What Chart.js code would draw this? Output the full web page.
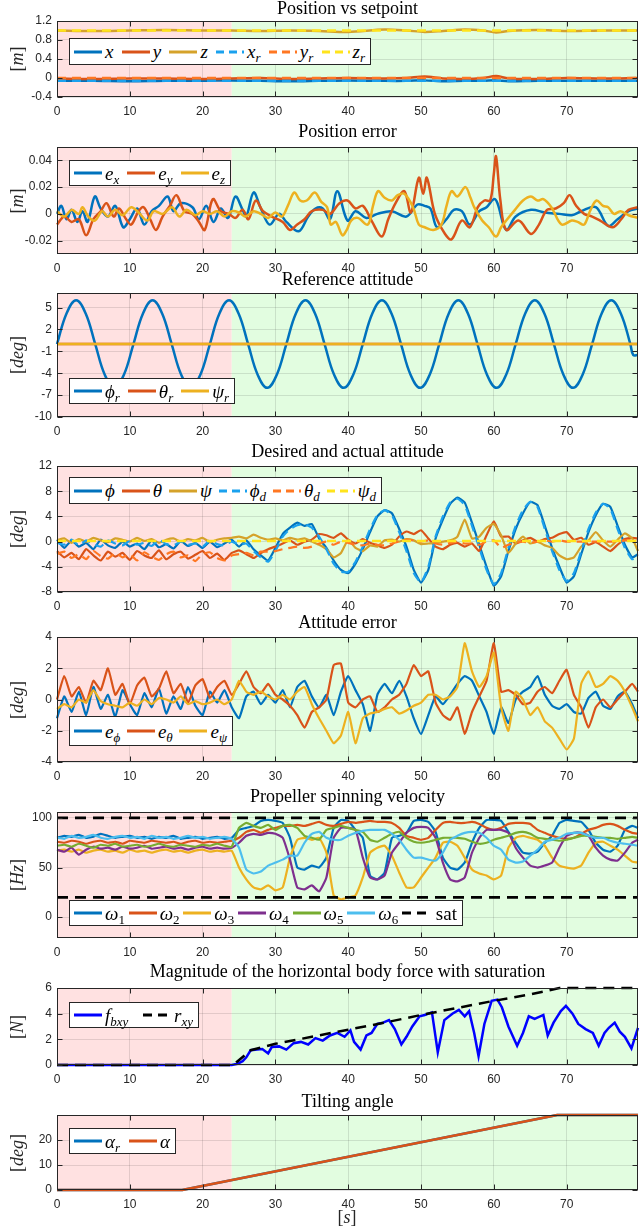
<!DOCTYPE html>
<html>
<head>
<meta charset="utf-8">
<script src="https://cdn.jsdelivr.net/npm/chart.js@4.4.1/dist/chart.umd.min.js"></script>
<style>
html,body{margin:0;padding:0;background:#fff}
body{position:relative;width:640px;height:1227px;overflow:hidden}
.pn{position:absolute;left:0}
.lg{position:absolute;left:69px;box-sizing:border-box;background:#fff;border:1px solid #262626;display:flex;align-items:center;justify-content:space-between;padding:0 5px 0 4px;z-index:5;font:italic 19px 'Liberation Serif',serif;color:#000}
.it{display:flex;align-items:center;white-space:nowrap}
.it svg{display:block}
.it span{margin-left:3px;line-height:19px}
.lg sub{font-size:13px;line-height:0;vertical-align:-4px}
.lg .u{font-style:normal}
.yl{position:absolute;transform:translate(-50%,-50%) rotate(-90deg);font:18px 'Liberation Serif',serif;white-space:nowrap;color:#262626;z-index:5}
.xl{position:absolute;transform:translate(-50%,-50%);font:18px 'Liberation Serif',serif;color:#262626}
</style>
</head>
<body>
<script>
// shared time axis (1 s steps) and ticks
const sec = [0,1,2,3,4,5,6,7,8,9,10,11,12,13,14,15,16,17,18,19,20,21,22,23,24,25,26,27,28,29,30,31,32,33,34,35,36,37,38,39,40,41,42,43,44,45,46,47,48,49,50,51,52,53,54,55,56,57,58,59,60,61,62,63,64,65,66,67,68,69,70,71,72,73,74,75,76,77,78,79,79.8];
const tRef = [0, 79.8];
const xTicks = [0,10,20,30,40,50,60,70];
const phaseFrom = [0, 24];
const phaseTo = [24, 79.8];

// Position vs setpoint
const tPos = [0,5,10,15,20,24,28,32,36,40,45,48,50.5,53,56,58.5,60.3,62,66,70,75,79.8];
const xPos = [-0.06,-0.06,-0.07,-0.06,-0.06,-0.05,-0.06,-0.07,-0.06,-0.05,-0.06,-0.06,-0.05,-0.07,-0.06,-0.06,-0.05,-0.07,-0.06,-0.06,-0.06,-0.06];
const yPos = [-0.01,-0.02,-0.01,-0.01,-0.02,-0.01,0,-0.02,-0.01,0,-0.01,0,0.03,-0.01,-0.02,0,0.04,-0.01,-0.02,0,-0.01,0];
const zPos = [1,0.99,1,1.01,1,1,0.99,1,0.99,0.97,1.02,1,0.97,0.99,1.02,1,0.96,0.99,1.01,0.99,1,1];
const xRef = [-0.06,-0.06];
const yRef = [0,0];
const zRef = [1,1];

// Position error
const exT = [0,0.6,1.3,2,2.8,3.5,4.2,5.2,6,7,8,9.1,10,11,12,13,14,15.2,16,17,18.6,19.5,20.5,21.5,22.5,23.5,24.5,25.5,26,27,28,29.2,30.5,31.5,33.2,34.5,35.5,36.5,37.5,38.5,39.9,41,42.5,44,46,48,49.5,50.5,51.3,52.2,53.5,54.5,55.6,56.7,58,59,60,60.5,61.7,63,65.1,67,69,70.7,72,74,75.7,77,78.5,79.8];
const exV = [0,0.006,-0.004,0.003,-0.006,0.002,-0.006,0.013,0.004,-0.002,0.006,-0.01,-0.004,0.004,-0.008,0.002,0.006,0.013,0.002,0.008,0.005,-0.004,0.006,-0.006,0.004,-0.003,0.013,0.003,-0.002,0.016,0.004,-0.008,0,-0.006,-0.013,-0.002,0.004,0.004,-0.004,0.017,-0.005,0.002,-0.003,0,0.002,-0.002,0.007,0.006,0.004,-0.01,-0.004,0.003,0.002,-0.008,0.002,0.005,0.011,0.008,-0.012,-0.002,0.003,0.001,0,-0.001,0.002,0.005,-0.009,-0.004,0.002,0.004];
const eyT = [0,1,2,3,4,5,6,6.8,7.8,8.5,9.5,10.2,11.2,11.9,12.8,13.6,14.5,15.5,16.4,17.5,18.6,19.5,20.3,21.4,22.5,23.6,24.5,25.5,26.3,27.3,28.3,29.5,31,32,33,34,35,36.5,37.5,38.8,39.9,41,42,43.2,44.6,45.5,46.5,47.7,48.6,49.7,50.3,50.8,51.9,53.3,54.2,55.6,56.7,57.8,58.7,59.5,60,60.3,60.9,61.7,63.4,65.1,66.2,67.3,68.5,69.6,70.4,71.3,72.4,73.5,74.6,76.3,77.5,78.5,79.8];
const eyV = [-0.008,-0.002,-0.006,-0.004,-0.016,-0.004,0.002,0.008,-0.002,0.004,-0.004,-0.008,0.002,0.005,-0.004,-0.012,-0.002,0.006,0.014,0.002,0,-0.006,-0.012,0.011,0.002,0,-0.003,0.003,-0.004,0.01,0.002,-0.002,-0.006,-0.012,-0.008,-0.004,0.002,0.003,0,0.008,0.01,0.004,0.006,-0.005,-0.017,-0.004,0.008,0.017,0.001,0.027,0.015,0.027,0,-0.015,-0.019,-0.005,-0.01,0.005,0.01,0.01,0.03,0.043,0.01,-0.012,-0.005,-0.015,-0.008,0.003,0.004,0.008,0.014,0.006,0,-0.002,-0.005,-0.01,-0.004,0.003,0.005];
const ezT = [0,1,2,3,3.5,4.3,5.2,6.2,7,8,9,10.2,11.2,12.4,13.3,14.5,15.8,16.8,17.8,19,20,21,22,23,24,25,25.9,27,28,29,30,30.9,31.7,32.6,33.4,34.3,35.4,36.3,37.1,37.6,38.3,39.2,39.8,40.4,41.3,42.7,43.4,44.1,45,46,46.8,47.7,48.9,49.7,50.5,51.7,52.8,53.5,54.2,55,56.1,56.8,57.3,58.4,59.3,60.3,61,61.7,62.9,64,65.1,66,66.8,67.9,69.3,70.7,71.5,72.4,73.2,74.1,75,75.7,76.5,77.4,78.5,79.8];
const ezV = [0.002,-0.002,0.003,0,0.005,-0.002,-0.005,0.002,-0.002,0.003,-0.001,0.005,0.001,-0.005,0.002,0,0.005,-0.002,0.003,-0.001,0.002,0,0.002,-0.002,0.002,0.001,-0.002,0.002,0,-0.003,0.001,-0.002,0.006,0.016,0.01,0.01,0.016,0.009,0.005,-0.008,-0.006,-0.016,-0.012,-0.005,-0.003,-0.008,0.006,0.017,0.012,0.01,0.014,0.015,0.005,-0.008,-0.01,-0.012,-0.008,0.006,0.017,0.013,0.02,0.012,0.005,-0.005,-0.01,-0.017,-0.01,-0.005,0.003,0.01,0.013,0.01,0.011,0.005,-0.008,-0.005,-0.006,-0.008,0.002,0.01,0.006,0.005,0,0.002,-0.001,-0.003];

// Reference attitude
const phirT = [0,1.31,2.63,3.94,5.25,6.56,7.88,9.19,10.5,11.81,13.13,14.44,15.75,17.06,18.38,19.69,21,22.31,23.63,24.94,26.25,27.56,28.88,30.19,31.5,32.81,34.13,35.44,36.75,38.06,39.38,40.69,42,43.31,44.63,45.94,47.25,48.56,49.88,51.19,52.5,53.81,55.13,56.44,57.75,59.06,60.38,61.69,63,64.31,65.63,66.94,68.25,69.56,70.88,72.19,73.5,74.81,76.13,77.44,78.75,79.15,79.8];
const phirV = [0,4.2,6,4.2,0,-4.2,-6,-4.2, 0,4.2,6,4.2,0,-4.2,-6,-4.2, 0,4.2,6,4.2,0,-4.2,-6,-4.2, 0,4.2,6,4.2,0,-4.2,-6,-4.2, 0,4.2,6,4.2,0,-4.2,-6,-4.2, 0,4.2,6,4.2,0,-4.2,-6,-4.2, 0,4.2,6,4.2,0,-4.2,-6,-4.2, 0,4.2,6,4.2,0,-1.5,-1.5];
const thetaR = [0,0];
const psiR = [0,0];

// Desired and actual attitude (1 s samples)
const phiV = [0.3,-1.0,0.2,-0.8,-0.2,-1.2,0.3,-0.6,-1.0,0.0,-0.8,-0.3,-1.2,0.2,-0.9,-0.4,-1.1,0.1,-0.7,-0.2,-1.0,0.0,-0.9,-0.3,0.3,
  -0.8,0.2,-1.2,-2.2,-3.0,-1.0,1.2,2.2,3.0,2.5,2.8,0.5,-1.0,-3.0,-4.5,-5.0,-3.5,-1.2,1.5,4.0,5.0,4.5,2.0,-0.8,-4.5,-6.5,-4.5,0.5,3.5,6.0,
  7.0,6.2,3.0,-0.5,-4.0,-7.0,-5.5,-1.5,2.0,4.5,6.3,5.8,2.5,-1.0,-4.0,-6.5,-5.5,-2.0,1.5,4.2,6.0,5.5,2.5,-0.5,-2.5,-2.0];
const thetaV = [-1.5,-2.5,-1.8,-2.8,-1.2,-2.2,-3.0,-1.6,-2.4,-1.8,-2.9,-1.5,-2.2,-2.6,-1.4,-2.8,-2.0,-1.6,-2.7,-2.1,-1.5,-2.6,-1.9,-2.9,-1.8,
  -1.4,-2.0,-2.6,-1.8,-1.2,-0.8,-0.3,0.2,-0.5,0.0,0.3,1.2,1.0,0.6,1.3,0.3,-0.3,0.4,-0.2,-0.6,-1.0,-0.5,0.8,1.6,1.2,1.8,0.5,-0.8,-1.2,-0.5,
  -0.2,-0.8,-0.3,-1.5,1.0,3.2,0.8,0.8,-0.3,0.2,0.6,0.0,0.4,0.6,1.2,1.5,0.3,0.6,-0.5,-0.1,-0.8,-1.5,-0.5,0.4,0.6,0.5];
const psiV = [0.2,0.5,-0.2,0.4,0.0,0.6,0.2,-0.1,0.5,0.3,0.0,0.6,0.1,0.4,-0.2,0.3,0.5,0.0,0.4,0.2,0.6,-0.1,0.3,0.5,0.6,
  0.8,0.5,1.1,0.6,0.3,0.5,0.2,0.6,0.3,0.5,0.0,-0.5,-1.2,-2.5,-1.8,0.3,-1.0,-1.5,-0.6,-0.8,0.2,0.3,0.0,0.4,0.2,-0.4,-0.3,-0.2,0.0,0.2,
  0.8,3.5,0.5,0.8,2.2,2.8,1.0,-1.8,-0.3,0.8,-0.3,0.0,-0.6,-1.0,-2.2,-2.8,-2.5,-0.8,0.2,1.5,0.2,-0.8,0.3,1.3,0.5,-1.5];
const phidV = [-0.2,-0.5,0.3,-0.6,0.2,-0.4,-0.8,0.2,-0.3,-0.6,0.1,-0.5,-0.2,-0.7,0.3,-0.4,-0.6,0.0,-0.5,-0.3,-0.8,0.2,-0.4,-0.6,0.0,
  -0.5,-0.3,-1.5,-2.5,-3.2,-1.5,0.8,2.0,2.6,2.8,2.2,0.8,-1.2,-3.5,-4.8,-4.8,-3.2,-0.8,2.0,4.2,5.0,4.2,1.5,-1.5,-5.0,-6.5,-4.0,0.8,4.0,6.2,
  6.8,5.8,2.5,-1.0,-4.5,-6.8,-5.0,-1.0,2.5,5.0,6.3,5.5,2.0,-1.5,-4.5,-6.3,-5.0,-1.5,2.0,4.6,6.0,5.2,2.0,-1.0,-2.8,-2.2];
const thetadV = [-2.0,-1.6,-2.6,-2.0,-2.8,-1.5,-2.3,-2.7,-1.8,-2.5,-2.0,-3.0,-1.7,-2.4,-2.9,-2.0,-1.6,-2.5,-2.2,-3.1,-2.0,-1.7,-2.6,-3.0,-2.2,
  -2.0,-1.8,-2.2,-1.6,-1.6,-1.5,-1.2,-1.0,-0.8,-1.0,-0.8,-0.3,0.0,-0.5,0.0,-0.2,-0.5,-0.6,-0.3,-0.5,-0.6,-0.3,0.0,0.3,0.2,0.0,0.2,-0.3,-0.5,-0.2,
  0.0,-0.3,-0.3,-0.5,0.0,0.2,-1.0,-0.5,-0.2,0.0,-0.2,0.0,0.2,0.0,0.2,0.0,0.0,0.0,0.0,0.0,0.0,0.0,0.0,0.2,0.2,0.2];
const psidV = [0.1,0.1];

// Attitude error (1 s samples)
const ephiV = [-1.2,0.2,-0.8,0.5,-1.0,0.8,-0.6,0.3,-1.1,0.6,-0.3,-1.0,0.4,-0.5,0.7,-0.9,0.2,-0.6,0.8,-0.4,-1.0,0.5,-0.2,0.6,-0.5,
  -1.2,0.2,0.5,-0.3,0.3,-0.2,0.6,-0.5,0.8,1.2,0.2,-0.5,0.3,-1.0,0.5,1.5,0.6,-0.3,-2.0,0.3,1.0,0.4,1.2,0.2,-1.2,-2.2,-1.0,0.2,-0.3,0.3,
  1.0,1.5,1.2,0.2,-0.8,-2.2,-0.5,-1.5,0.0,0.5,0.8,1.5,0.3,-0.4,-0.6,-0.3,-0.8,-0.9,0.1,0.5,-0.4,-0.6,0.2,0.5,-0.3,-1.2];
const ethetaV = [0.0,1.5,0.2,0.8,-0.2,1.2,0.6,2.0,0.3,1.0,-0.3,0.9,1.4,0.2,0.7,1.8,0.4,1.0,-0.2,0.9,1.3,0.1,0.8,1.2,0.3,
  1.0,1.8,0.8,0.4,1.0,0.3,0.0,-0.4,-1.0,-1.8,-0.8,-0.5,0.0,2.2,2.3,-0.2,-0.5,0.0,0.2,-0.8,-0.5,0.0,0.3,1.0,2.2,1.5,1.8,-0.2,-1.0,-1.3,
  -0.5,-2.2,-0.8,0.2,1.2,3.6,0.5,0.6,0.3,-0.3,-0.2,0.5,0.8,0.4,1.2,1.9,0.3,-0.5,-1.8,-0.5,0.0,-0.5,0.0,0.5,1.0,0.5];
const epsiV = [-0.6,-0.3,-0.5,0.0,-0.2,0.6,-0.1,-0.3,-0.4,-0.5,-0.2,-0.4,0.0,-0.3,0.1,0.0,-0.2,0.2,-0.3,-0.1,-0.3,-0.2,0.0,-0.3,0.0,
  1.2,0.5,0.3,0.5,0.2,0.0,0.3,0.0,0.5,0.8,-0.3,-1.2,-2.0,-2.8,-2.3,-0.8,-2.8,-1.2,-0.9,-0.8,-0.6,-0.5,-0.9,-0.7,-0.4,-0.2,0.3,0.3,0.0,0.2,
  0.8,3.6,1.8,0.8,1.5,3.0,-0.5,-2.0,0.5,0.0,-1.0,-0.5,-1.4,-1.8,-2.5,-3.2,-2.5,1.0,1.8,0.8,1.0,1.5,1.2,0.5,-0.5,-1.4];

// Propeller spinning velocity (1 s samples)
const w1 = [80,82,81,83,80,81,84,82,80,81,82,80,81,79,81,80,82,79,80,81,79,80,81,79,80,
  88,90,92,97,98,97,95,80,50,48,52,50,60,90,98,97,88,80,42,38,45,80,82,85,97,98,96,86,60,50,
  48,55,75,90,98,98,97,86,75,65,64,66,75,82,95,98,97,96,88,75,68,66,72,88,92,90];
const w2 = [76,75,77,76,74,76,77,75,76,74,77,76,75,77,76,75,76,74,76,77,75,76,75,76,77,
  80,86,88,85,88,90,92,92,93,92,94,96,93,92,94,96,95,96,97,96,96,95,90,82,80,78,80,88,95,96,
  95,95,96,94,90,88,90,94,95,95,94,88,85,82,80,79,80,84,88,90,93,94,92,88,85,84];
const w3 = [67,68,66,68,65,67,68,66,67,65,68,66,67,65,67,68,66,67,65,67,68,66,67,66,67,
  50,38,30,28,32,27,30,60,78,80,78,80,65,22,18,20,22,40,65,70,72,62,45,30,30,40,50,60,75,76,
  72,60,48,44,42,38,42,70,80,82,80,78,72,60,52,50,49,52,65,75,76,72,68,62,56,55];
const w4 = [68,66,70,63,68,71,69,70,68,71,69,70,72,69,70,71,69,70,68,70,71,69,70,69,70,
  75,82,84,83,85,84,80,58,30,28,32,26,40,80,90,90,88,60,40,38,42,65,75,85,90,91,90,80,55,38,
  36,40,65,80,88,88,88,85,70,60,52,50,52,55,70,82,85,85,82,70,62,58,57,65,75,78];
const w5 = [72,73,71,74,72,70,73,72,74,71,72,73,71,72,74,72,71,73,72,71,73,72,74,72,71,
  90,95,92,90,93,88,92,93,90,82,80,78,88,90,92,90,88,86,78,76,80,84,86,80,76,75,76,78,80,80,
  80,79,76,74,75,78,80,82,85,86,84,80,79,78,77,78,80,82,82,81,80,80,79,80,81,80];
const w6 = [80,79,82,80,81,83,80,79,81,82,80,81,79,82,80,81,79,80,82,80,81,79,80,81,79,
  70,48,44,46,52,55,58,62,62,75,84,86,80,78,78,82,85,87,88,88,88,84,78,68,60,60,58,57,65,78,
  82,85,86,85,80,72,68,58,55,56,62,68,76,78,80,84,85,85,82,80,80,77,75,74,73,72];
const satHi = [100,100];
const satLo = [20,20];

// Horizontal body force
const fT = [0,24,24.8,25.5,26,26.6,27.5,28.2,29,29.5,30.5,31.5,32.5,33.5,34.5,35.5,36.5,37.5,38.5,39.5,40.3,40.8,41.7,42.5,43.2,44,44.8,45.6,46.4,47.3,48,48.8,49.8,50.5,51.5,52.3,53.2,54.3,55.2,56,56.6,57.3,57.9,58.7,59.7,60.5,61.1,62,63.2,64,64.8,65.6,66.8,67.4,68.2,69.2,69.9,70.8,71.6,72.6,73.6,74.4,75.2,75.8,76.6,77.3,78,78.9,79.8];
const fV = [0,0,0.1,0.3,0.6,1.15,1.2,1.25,0.9,1.4,1.45,1.2,1.7,1.8,1.6,2.1,1.9,2.3,2.5,2.2,2.7,1.8,1.2,2.3,2.5,3.2,3.3,3.5,2.8,1.6,2.2,3.0,3.8,3.9,4.1,1.0,3.5,4.0,4.3,3.8,4.2,2.5,0.7,3.2,5.0,5.1,4.5,3.0,1.5,2.5,3.8,3.6,3.9,2.3,3.3,4.2,4.6,4.0,3.2,2.8,2.5,1.5,2.5,2.9,3.3,2.6,2.2,1.3,2.9];
const rT = [0,24.2,26.6,30,35,40,45,50,55,60,65,69,79.8];
const rV = [0,0,1.15,1.65,2.2,2.75,3.3,3.9,4.45,5.0,5.5,6.0,6.0];

// Tilting angle
const alT = [0,17.2,68.7,79.8];
const alphaRef = [0,0,30,30];
const alphaAct = [0,0,30,30];

const BLUE='#0072BD', ORANGE='#D95319', YELLOW='#EDB120', PURPLE='#7E2F8E', GREEN='#77AC30', CYAN='#4DBEEE';
const GOLD='#D5A22A', LBLUE='#1AA1EE', LORANGE='#FF7722', LYELLOW='#FFE41C';
const PINK='rgb(255,225,225)', MINT='rgb(226,253,224)', GRID='rgba(38,38,38,0.13)', INK='#262626';

const panels = [
  {title:'Position vs setpoint', top:0, plotTop:21, plotBottom:97, ylab:'[<i>m</i>]', ymin:-0.4, ymax:1.2, yt:[-0.4,0,0.4,0.8,1.2],
   lg:{top:38,w:302,h:27}, sets:[
    {x:tPos,y:xPos,c:BLUE,k:'x',t:0.3},
    {x:tPos,y:yPos,c:ORANGE,k:'y',t:0.3},
    {x:tPos,y:zPos,c:GOLD,k:'z',t:0.3},
    {x:tRef,y:xRef,c:LBLUE,d:1,k:'x<sub>r</sub>'},
    {x:tRef,y:yRef,c:LORANGE,d:1,k:'y<sub>r</sub>'},
    {x:tRef,y:zRef,c:LYELLOW,d:1,k:'z<sub>r</sub>'}]},
  {title:'Position error', top:123, plotTop:147, plotBottom:254, ylab:'[<i>m</i>]', ymin:-0.03, ymax:0.05, yt:[-0.02,0,0.02,0.04],
   lg:{top:160,w:162,h:26}, sets:[
    {x:exT,y:exV,c:BLUE,k:'e<sub>x</sub>',t:0.35},
    {x:eyT,y:eyV,c:ORANGE,k:'e<sub>y</sub>',t:0.35},
    {x:ezT,y:ezV,c:YELLOW,k:'e<sub>z</sub>',t:0.35}]},
  {title:'Reference attitude', top:271, plotTop:293, plotBottom:417, ylab:'[<i>deg</i>]', ymin:-10, ymax:7, yt:[-10,-7,-4,-1,2,5],
   lg:{top:378,w:166,h:26}, sets:[
    {x:phirT,y:phirV,c:BLUE,k:'ϕ<sub>r</sub>',t:0.4},
    {x:tRef,y:thetaR,c:ORANGE,k:'θ<sub>r</sub>'},
    {x:tRef,y:psiR,c:YELLOW,k:'ψ<sub>r</sub>'}]},
  {title:'Desired and actual attitude', top:443, plotTop:466, plotBottom:592, ylab:'[<i>deg</i>]', ymin:-8, ymax:12, yt:[-8,-4,0,4,8,12],
   lg:{top:477,w:313,h:27}, sets:[
    {x:sec,y:phiV,c:BLUE,k:'ϕ',w:2.2,t:0.15},
    {x:sec,y:thetaV,c:ORANGE,k:'θ',w:2.2,t:0.15},
    {x:sec,y:psiV,c:GOLD,k:'ψ',w:2.2,t:0.15},
    {x:sec,y:phidV,c:LBLUE,d:1,k:'ϕ<sub>d</sub>',w:2.2,t:0.15},
    {x:sec,y:thetadV,c:LORANGE,d:1,k:'θ<sub>d</sub>',w:2.2,t:0.15},
    {x:tRef,y:psidV,c:LYELLOW,d:1,k:'ψ<sub>d</sub>'}]},
  {title:'Attitude error', top:614, plotTop:637, plotBottom:762, ylab:'[<i>deg</i>]', ymin:-4, ymax:4, yt:[-4,-2,0,2,4],
   lg:{top:716,w:164,h:30}, sets:[
    {x:sec,y:ephiV,c:BLUE,k:'e<sub>ϕ</sub>',w:2.2,t:0.15},
    {x:sec,y:ethetaV,c:ORANGE,k:'e<sub>θ</sub>',w:2.2,t:0.15},
    {x:sec,y:epsiV,c:YELLOW,k:'e<sub>ψ</sub>',w:2.2,t:0.15}]},
  {title:'Propeller spinning velocity', top:788, plotTop:812, plotBottom:938, ylab:'[<i>Hz</i>]', ymin:-21, ymax:106, yt:[0,50,100],
   lg:{top:900,w:394,h:26}, sets:[
    {x:sec,y:w1,c:BLUE,k:'ω<sub class="u">1</sub>',w:2.2,t:0.15},
    {x:sec,y:w2,c:ORANGE,k:'ω<sub class="u">2</sub>',w:2.2,t:0.15},
    {x:sec,y:w3,c:YELLOW,k:'ω<sub class="u">3</sub>',w:2.2,t:0.15},
    {x:sec,y:w4,c:PURPLE,k:'ω<sub class="u">4</sub>',w:2.2,t:0.15},
    {x:sec,y:w5,c:GREEN,k:'ω<sub class="u">5</sub>',w:2.2,t:0.15},
    {x:sec,y:w6,c:CYAN,k:'ω<sub class="u">6</sub>',w:2.2,t:0.15},
    {x:tRef,y:satHi,c:'#000',d:2,w:2.8,k:'<span class="u">sat</span>'},
    {x:tRef,y:satLo,c:'#000',d:2,w:2.8}]},
  {title:'Magnitude of the horizontal body force with saturation', top:963, plotTop:988, plotBottom:1065, ylab:'[<i>N</i>]', ymin:0, ymax:6, yt:[0,2,4,6],
   lg:{top:1002,w:130,h:26}, sets:[
    {x:fT,y:fV,c:'#0000FF',k:'f<sub>bxy</sub>'},
    {x:rT,y:rV,c:'#000',d:2,k:'r<sub>xy</sub>'}]},
  {title:'Tilting angle', top:1093, plotTop:1115, plotBottom:1190, ylab:'[<i>deg</i>]', ymin:0, ymax:30, yt:[0,10,20],
   lg:{top:1128,w:107,h:26}, sets:[
    {x:alT,y:alphaRef,c:BLUE,k:'α<sub>r</sub>'},
    {x:alT,y:alphaAct,c:ORANGE,k:'α'}]}
];

const frame = {
  id: 'frame',
  beforeDraw(c) {
    const a = c.chartArea, xs = c.scales.x, ctx = c.ctx;
    ctx.save();
    phaseFrom.forEach((p, i) => {
      const x0 = xs.getPixelForValue(p), x1 = xs.getPixelForValue(phaseTo[i]);
      ctx.fillStyle = i === 0 ? PINK : MINT;
      ctx.fillRect(x0, a.top, x1 - x0, a.bottom - a.top);
    });
    ctx.restore();
  },
  afterDraw(c) {
    const a = c.chartArea, ctx = c.ctx, xs = c.scales.x, ys = c.scales.y;
    ctx.save();
    ctx.strokeStyle = INK; ctx.lineWidth = 1;
    const l = Math.round(a.left) + 0.5, r = Math.round(a.right) - 0.5, t = Math.round(a.top) + 0.5, b = Math.round(a.bottom) - 0.5;
    ctx.strokeRect(l, t, r - l, b - t);
    ctx.beginPath();
    xs.ticks.forEach(k => {
      const px = Math.round(xs.getPixelForValue(k.value)) + 0.5;
      ctx.moveTo(px, b); ctx.lineTo(px, b - 5);
      ctx.moveTo(px, t); ctx.lineTo(px, t + 5);
    });
    ys.ticks.forEach(k => {
      const py = Math.round(ys.getPixelForValue(k.value)) + 0.5;
      ctx.moveTo(l, py); ctx.lineTo(l + 5, py);
      ctx.moveTo(r, py); ctx.lineTo(r - 5, py);
    });
    ctx.stroke();
    ctx.restore();
  }
};

const tickFont = {family: "'Liberation Sans', Arial, sans-serif", size: 12};

function makePanel(p) {
  const H = p.plotBottom - p.top + 26;
  const wrap = document.createElement('div');
  wrap.className = 'pn';
  wrap.style.top = p.top + 'px';
  const cv = document.createElement('canvas');
  cv.width = 640; cv.height = H;
  cv.style.width = '640px'; cv.style.height = H + 'px';
  wrap.appendChild(cv);
  document.body.appendChild(wrap);

  const datasets = p.sets.map((s, i) => ({
    label: s.k || '',
    data: s.x.map((x, j) => ({x: x, y: s.y[j]})),
    borderColor: s.c,
    borderWidth: s.w || 2.5,
    borderDash: s.d === 2 ? [11, 7] : (s.d ? [9, 6] : []),
    pointRadius: 0,
    tension: s.t || 0,
    fill: false,
    clip: 4,
    order: -i
  }));

  new Chart(cv.getContext('2d'), {
    type: 'line',
    data: {datasets},
    options: {
      responsive: false, animation: false, devicePixelRatio: 1,
      layout: {padding: {left: 0, right: 2, top: 0, bottom: 0}},
      plugins: {
        legend: {display: false},
        tooltip: {enabled: false},
        title: {
          display: true, text: p.title, fullSize: false, color: '#000',
          font: {family: "'Liberation Serif', serif", size: 18, weight: 'normal', lineHeight: 1},
          padding: {top: 0, bottom: p.plotTop - p.top - 18}
        }
      },
      scales: {
        x: {
          type: 'linear', min: 0, max: 79.8,
          afterBuildTicks: s => { s.ticks = xTicks.map(v => ({value: v})); },
          afterFit: s => { s.height = 26; },
          grid: {color: GRID, drawTicks: false},
          border: {display: false},
          ticks: {padding: 7, color: INK, font: tickFont, maxRotation: 0, autoSkip: false}
        },
        y: {
          type: 'linear', min: p.ymin, max: p.ymax,
          afterBuildTicks: s => { s.ticks = p.yt.map(v => ({value: v})); },
          afterFit: s => { s.width = 57; },
          grid: {color: GRID, drawTicks: false},
          border: {display: false},
          ticks: {padding: 5, color: INK, font: tickFont, autoSkip: false, callback: v => String(+v.toFixed(4))}
        }
      }
    },
    plugins: [frame]
  });

  // legend box inside the axes
  const box = document.createElement('div');
  box.className = 'lg';
  box.style.top = p.lg.top + 'px';
  box.style.width = p.lg.w + 'px';
  box.style.height = p.lg.h + 'px';
  p.sets.filter(s => s.k).forEach(s => {
    const it = document.createElement('span');
    it.className = 'it';
    const dash = s.d === 2 ? 'stroke-dasharray="9 6"' : (s.d ? 'stroke-dasharray="8 5"' : '');
    it.innerHTML = `<svg width="28" height="6"><line x1="0" y1="3" x2="28" y2="3" stroke="${s.c}" stroke-width="3" ${dash}/></svg><span>${s.k}</span>`;
    box.appendChild(it);
  });
  document.body.appendChild(box);

  // y label
  const yl = document.createElement('div');
  yl.className = 'yl';
  yl.style.left = '17px';
  yl.style.top = ((p.plotTop + p.plotBottom) / 2) + 'px';
  yl.innerHTML = p.ylab;
  document.body.appendChild(yl);
}

panels.forEach(makePanel);

const xl = document.createElement('div');
xl.className = 'xl';
xl.style.left = '347px';
xl.style.top = '1217px';
xl.innerHTML = '[<i>s</i>]';
document.body.appendChild(xl);
</script>
</body>
</html>
